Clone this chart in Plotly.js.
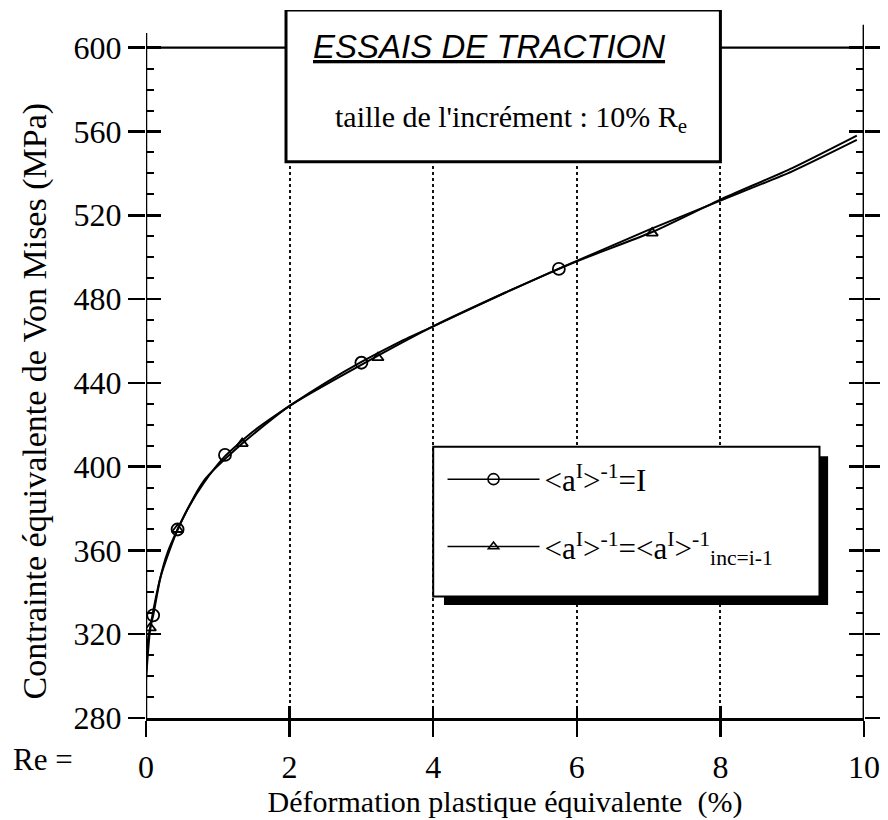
<!DOCTYPE html>
<html><head><meta charset="utf-8">
<script src="https://cdn.plot.ly/plotly-3.0.1.min.js"></script>
<style>html,body{margin:0;padding:0;background:#fff;}#chart{width:888px;height:820px;}</style>
</head><body><div id="chart"></div>
<script>
// Series 1 : <a^I>^-1 = I  (circles)
const curve1X = [0, 0.03, 0.1, 0.2, 0.3, 0.44, 0.6, 0.8, 1.1, 1.5, 2.0, 2.5, 3.0, 3.5, 4.0, 5.0, 5.75, 7.0, 8.0, 9.0, 9.9];
const curve1Y = [300, 318, 329, 347, 359, 370, 381, 392, 405, 417, 429, 440, 450, 459, 467, 483, 494.5, 513, 527, 541, 556];
const mark1X = [0.1, 0.44, 1.1, 3.0, 5.75];
const mark1Y = [329, 370, 405.6, 449.6, 494.4];
// Series 2 : <a^I>^-1 = <a^I>^-1 inc=i-1  (triangles)
const curve2X = [0, 0.06, 0.2, 0.44, 0.8, 1.34, 2.0, 3.23, 4.0, 5.0, 6.0, 7.05, 8.0, 9.0, 9.9];
const curve2Y = [298, 323, 347, 370, 393, 411, 429, 453, 467, 483, 498, 512, 527.5, 542.5, 558];
const mark2X = [0.06, 0.44, 1.34, 3.23, 7.05];
const mark2Y = [323, 370, 411, 452, 511.5];

const seriesNames = ['&lt;a<sup>I</sup>&gt;<sup>-1</sup>=I',
  '&lt;a<sup>I</sup>&gt;<sup>-1</sup>=&lt;a<sup>I</sup>&gt;<sup>-1</sup><sub>inc=i-1</sub>'];
const xTicks = [0, 2, 4, 6, 8, 10];
const xTickLabels = ['0', '2', '4', '6', '8', '10'];
const gridX = [2, 4, 6, 8];
const yTicks = [280, 320, 360, 400, 440, 480, 520, 560, 600];
const yTickLabels = ['280', '320', '360', '400', '440', '480', '520', '560', '600'];
const yMinor = [290, 300, 310, 330, 340, 350, 370, 380, 390, 410, 420, 430, 450, 460, 470, 490, 500, 510, 530, 540, 550, 570, 580, 590];

const SERIF = 'Liberation Serif, Times New Roman, serif';
const SANS = 'Liberation Sans, Arial, sans-serif';
const yRange = [280, 618];
const xRange = [0, 10];

const traces = [
  {x: curve1X, y: curve1Y, mode: 'lines', line: {color: '#000', width: 2, shape: 'spline', smoothing: 0.6}, showlegend: false, hoverinfo: 'skip'},
  {x: curve2X, y: curve2Y, mode: 'lines', line: {color: '#000', width: 2, shape: 'spline', smoothing: 0.6}, showlegend: false, hoverinfo: 'skip'},
  {x: mark1X, y: mark1Y, mode: 'markers', marker: {symbol: 'circle-open', size: 12, color: '#000', line: {width: 1.8, color: '#000'}}, showlegend: false},
  {x: mark2X, y: mark2Y, mode: 'markers', marker: {symbol: 'triangle-up-open', size: 10, color: '#000', line: {width: 1.8, color: '#000'}}, showlegend: false},
  {x: [null], y: [null], name: seriesNames[0], mode: 'lines+markers', legendgroup: 'a',
   line: {color: '#000', width: 1.5}, marker: {symbol: 'circle-open', size: 11, color: '#000', line: {width: 1.6, color: '#000'}}},
  {x: [null], y: [null], name: seriesNames[1], mode: 'lines+markers', legendgroup: 'b',
   line: {color: '#000', width: 1.5}, marker: {symbol: 'triangle-up-open', size: 9, color: '#000', line: {width: 1.6, color: '#000'}}}
];
// empty helper traces so that every tick/grid overlay axis owns a subplot
[['x2', 'y'], ['x3', 'y'], ['x', 'y2'], ['x', 'y3'], ['x', 'y4']].forEach(function (p) {
  traces.push({x: [null], y: [null], xaxis: p[0], yaxis: p[1], mode: 'lines', showlegend: false, hoverinfo: 'skip'});
});

const tickFont = {family: SERIF, size: 32, color: '#000'};
const baseY = {range: yRange, autorange: false, tickmode: 'array', tickvals: yTicks, showgrid: false, zeroline: false, showline: false, tickcolor: '#000', tickwidth: 2.5, fixedrange: true};
const baseX = {range: xRange, autorange: false, tickmode: 'array', tickvals: xTicks, zeroline: false, tickcolor: '#000', tickwidth: 2.5, fixedrange: true};

const layout = {
  width: 888, height: 820,
  margin: {l: 146, r: 24, t: 10, b: 102},
  paper_bgcolor: '#fff', plot_bgcolor: 'rgba(0,0,0,0)',
  font: {family: SERIF, color: '#000'},
  showlegend: true,
  legend: {x: 0.413, y: 0.375, xanchor: 'left', yanchor: 'top', bgcolor: 'rgba(0,0,0,0)', borderwidth: 0,
           font: {family: SERIF, size: 31, color: '#000'}, itemwidth: 92, traceorder: 'grouped', tracegroupgap: 24},
  xaxis: Object.assign({}, baseX, {ticktext: xTickLabels, ticks: 'outside', ticklen: 16,
          showline: true, linewidth: 2.5, linecolor: '#000', showgrid: false, tickfont: tickFont, ticklabelstandoff: 3,
          title: {text: 'Déformation plastique équivalente\u00a0 (%)', font: {family: SERIF, size: 30, color: '#000'}, standoff: 0}}),
  xaxis2: Object.assign({}, baseX, {overlaying: 'x', anchor: 'y', side: 'bottom', ticks: 'inside', ticklen: 12,
           showticklabels: false, showgrid: false, showline: false}),
  xaxis3: Object.assign({}, baseX, {overlaying: 'x', anchor: 'y', side: 'bottom', tickvals: gridX, ticks: '', showticklabels: false,
           showgrid: true, griddash: 'dot', gridcolor: '#111', gridwidth: 2, showline: false}),
  yaxis: Object.assign({}, baseY, {ticktext: yTickLabels, ticks: 'outside', ticklen: 17, tickfont: tickFont}),
  yaxis2: Object.assign({}, baseY, {overlaying: 'y', anchor: 'x', side: 'left', ticks: 'inside', ticklen: 15, showticklabels: false,
           minor: {tickmode: 'array', tickvals: yMinor, ticks: 'inside', ticklen: 8, tickwidth: 2, tickcolor: '#000', showgrid: false}}),
  yaxis3: Object.assign({}, baseY, {overlaying: 'y', anchor: 'x', side: 'right', ticks: 'outside', ticklen: 15, showticklabels: false}),
  yaxis4: Object.assign({}, baseY, {overlaying: 'y', anchor: 'x', side: 'right', ticks: 'inside', ticklen: 15, showticklabels: false,
           minor: {tickmode: 'array', tickvals: yMinor, ticks: 'inside', ticklen: 8, tickwidth: 2, tickcolor: '#000', showgrid: false}}),
  shapes: [
    // legend box shadow and box
    {type: 'rect', xref: 'x', yref: 'y', x0: 4.15, x1: 9.5, y0: 334, y1: 405, fillcolor: '#000', line: {width: 0}, layer: 'above'},
    {type: 'rect', xref: 'x', yref: 'y', x0: 4.0, x1: 9.38, y0: 338, y1: 409.5, fillcolor: '#fff', line: {color: '#000', width: 2}, layer: 'above'},
    // title box
    {type: 'rect', xref: 'x', yref: 'y', x0: 1.95, x1: 8.0, y0: 545.5, y1: yRange[1], fillcolor: '#fff', line: {color: '#000', width: 3}, layer: 'above'},
    // top frame line at 600
    {type: 'line', xref: 'x', yref: 'y', x0: xRange[0], x1: 1.95, y0: 600, y1: 600, line: {color: '#000', width: 2.2}, layer: 'above'},
    {type: 'line', xref: 'x', yref: 'y', x0: 8.0, x1: xRange[1], y0: 600, y1: 600, line: {color: '#000', width: 2.2}, layer: 'above'},
    // vertical axis lines
    {type: 'line', xref: 'x', yref: 'y', x0: xRange[0], x1: xRange[0], y0: yRange[0], y1: 607, line: {color: '#000', width: 2.5}, layer: 'above'},
    {type: 'line', xref: 'x', yref: 'y', x0: xRange[1], x1: xRange[1], y0: yRange[0], y1: 611, line: {color: '#000', width: 2.8}, layer: 'above'}
  ],
  annotations: [
    {xref: 'x', yref: 'y', x: 4.78, y: 600.5, text: '<i><u>ESSAIS DE TRACTION</u></i>', showarrow: false,
     font: {family: SANS, size: 33, color: '#000'}, xanchor: 'center', yanchor: 'middle'},
    {xref: 'x', yref: 'y', x: 5.08, y: 566, text: "taille de l'incrément : 10% R<sub>e</sub>", showarrow: false,
     font: {family: SERIF, size: 30, color: '#000'}, xanchor: 'center', yanchor: 'middle'},
    {xref: 'paper', yref: 'y', x: -0.155, y: 431, text: 'Contrainte équivalente de Von Mises (MPa)', textangle: -90, showarrow: false,
     font: {family: SERIF, size: 34, color: '#000'}, xanchor: 'center', yanchor: 'middle'},
    {xref: 'paper', yref: 'paper', x: -0.143, y: -0.058, text: 'Re =', showarrow: false,
     font: {family: SERIF, size: 31, color: '#000'}, xanchor: 'center', yanchor: 'middle'}
  ]
};

Plotly.newPlot('chart', traces, layout, {displayModeBar: false, staticPlot: true});
</script></body></html>
